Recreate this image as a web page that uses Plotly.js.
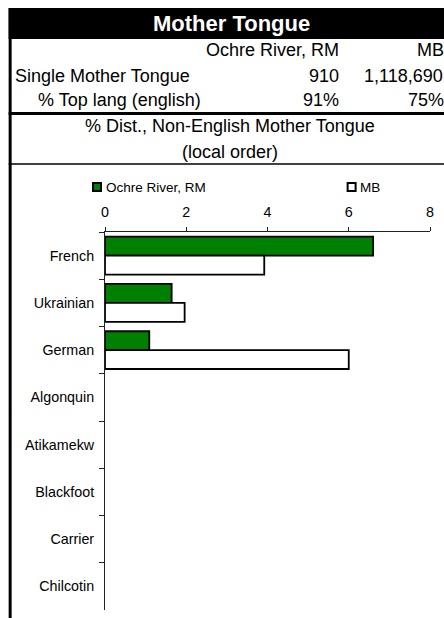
<!DOCTYPE html>
<html>
<head>
<meta charset="utf-8">
<script src="https://cdn.plot.ly/plotly-3.0.1.min.js"></script>
<style>
html,body{margin:0;padding:0;background:#fff;}
#chart{width:444px;height:618px;}
</style>
</head>
<body>
<div id="chart"></div>
<script>
// ---- data ----
const categories = ["French", "Ukrainian", "German", "Algonquin", "Atikamekw", "Blackfoot", "Carrier", "Chilcotin"];
const ochreRiver = [6.6, 1.64, 1.09, 0, 0, 0, 0, 0];
const manitoba = [3.92, 1.96, 6.0, 0, 0, 0, 0, 0];
const seriesNames = ["Ochre River, RM", "MB"];
const xTicks = [0, 2, 4, 6, 8];
const headerTitle = "Mother Tongue";
const tableCols = ["Ochre River, RM", "MB"];
const tableRowLabels = ["Single Mother Tongue", "% Top lang (english)"];
const tableLocal = ["910", "91%"];
const tableProv = ["1,118,690", "75%"];
const subTitle = ["% Dist., Non-English Mother Tongue", "(local order)"];

// ---- layout geometry (pixels) ----
const W = 444, H = 618;
const ml = 104.5, mr = 14, mt = 232, mb = 8;
const pw = W - ml - mr, ph = H - mt - mb;
const px = x => (x - ml) / pw;
const py = y => 1 - (y - mt) / ph;
const FONT = "Liberation Sans, Arial, sans-serif";
const outline = vals => vals.map(v => (v > 0 ? 1.8 : 0));

const traces = [
  {type: "bar", orientation: "h", name: seriesNames[0], y: categories, x: ochreRiver,
   marker: {color: "#008000", line: {color: "#000", width: outline(ochreRiver)}}, hoverinfo: "x+y"},
  {type: "bar", orientation: "h", name: seriesNames[1], y: categories, x: manitoba,
   marker: {color: "#ffffff", line: {color: "#000", width: outline(manitoba)}}, hoverinfo: "x+y"}
];

const shapes = [
  // black header band
  {type: "rect", xref: "paper", yref: "paper", x0: px(8), x1: px(450), y0: py(8), y1: py(39),
   fillcolor: "#000", line: {width: 0}, layer: "above"},
  // left border
  {type: "rect", xref: "paper", yref: "paper", x0: px(8), x1: px(11), y0: py(8), y1: py(620),
   fillcolor: "#000", line: {width: 0}},
  // separator lines
  {type: "rect", xref: "paper", yref: "paper", x0: px(8), x1: px(450), y0: py(112), y1: py(115),
   fillcolor: "#000", line: {width: 0}},
  {type: "line", xref: "paper", yref: "paper", x0: px(8), x1: px(450), y0: py(164), y1: py(164),
   line: {color: "#000", width: 1.5}},
  // legend keys
  {type: "rect", xref: "paper", yref: "paper", x0: px(92.5), x1: px(100.5), y0: py(183), y1: py(191),
   fillcolor: "#008000", line: {color: "#000", width: 2}},
  {type: "rect", xref: "paper", yref: "paper", x0: px(347.5), x1: px(355.5), y0: py(183), y1: py(191),
   fillcolor: "#fff", line: {color: "#000", width: 2}}
];

function ann(text, x, y, xanchor, size, opts) {
  return Object.assign({text: text, xref: "paper", yref: "paper", x: px(x), y: py(y),
    xanchor: xanchor, yanchor: "middle", showarrow: false,
    font: {family: FONT, size: size, color: "#000"}}, opts || {});
}

const annotations = [
  ann("<b>" + headerTitle + "</b>", 231, 23.5, "center", 22, {font: {family: FONT, size: 22, color: "#fff"}}),
  ann(tableCols[0], 341, 50, "right", 18),
  ann(tableCols[1], 446, 50, "right", 18),
  ann(tableRowLabels[0], 12.5, 76, "left", 18),
  ann(tableLocal[0], 341, 76, "right", 18),
  ann(tableProv[0], 445, 76, "right", 18),
  ann(tableRowLabels[1], 203, 100, "right", 18),
  ann(tableLocal[1], 341, 100, "right", 18),
  ann(tableProv[1], 446, 100, "right", 18),
  ann(subTitle[0], 230, 126, "center", 18),
  ann(subTitle[1], 230, 152, "center", 18),
  ann(seriesNames[0], 103.5, 187, "left", 13.5),
  ann(seriesNames[1], 358, 187, "left", 13.5)
];

const layout = {
  width: W, height: H,
  margin: {l: ml, r: mr, t: mt, b: mb, pad: 0},
  paper_bgcolor: "#fff", plot_bgcolor: "#fff",
  font: {family: FONT, size: 14.3, color: "#000"},
  showlegend: false,
  barmode: "group", bargap: 0.2, bargroupgap: 0,
  xaxis: {side: "top", range: [0, 8], tickvals: xTicks, ticktext: xTicks.map(String),
    ticks: "outside", ticklen: 4, tickcolor: "#222", tickwidth: 1, showline: true, linecolor: "#222", linewidth: 1,
    ticklabelstandoff: 4,
    showgrid: false, zeroline: false, tickfont: {family: FONT, size: 14.3, color: "#000"}, fixedrange: true},
  yaxis: {type: "category", autorange: "reversed", tickson: "boundaries",
    ticks: "outside", ticklen: 5, tickcolor: "#222", tickwidth: 1, showline: true, linecolor: "#222", linewidth: 1,
    ticklabelstandoff: 7,
    showgrid: false, zeroline: false, tickfont: {family: FONT, size: 14.3, color: "#000"}, fixedrange: true},
  shapes: shapes,
  annotations: annotations
};

Plotly.newPlot("chart", traces, layout, {displayModeBar: false, staticPlot: true});
</script>
</body>
</html>
